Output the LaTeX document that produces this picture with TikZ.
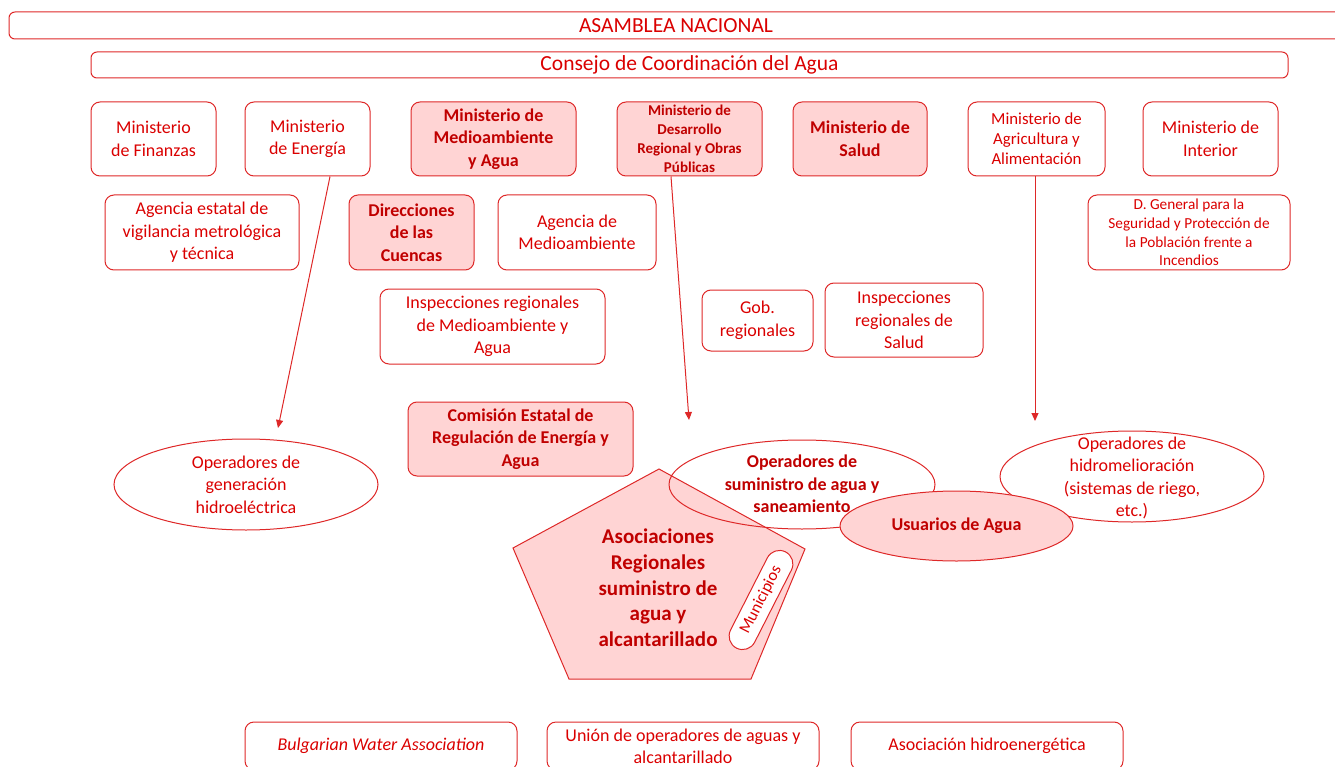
\documentclass[tikz,border=0pt]{standalone}
\usepackage{fontspec}
\setmainfont{Carlito}
\usetikzlibrary{shapes.geometric,arrows.meta}
\definecolor{bordred}{RGB}{222,40,40}
\definecolor{txtred}{RGB}{218,0,0}
\definecolor{boldred}{RGB}{192,0,0}
\definecolor{pinkfill}{RGB}{255,212,212}
\tikzset{
  box/.style={draw=bordred,line width=1pt,rounded corners=9pt,inner sep=0pt,align=center,text=txtred,
    font=\fontsize{18}{22.5}\selectfont},
  boldbox/.style={box,fill=pinkfill,text=boldred,font=\bfseries\fontsize{18}{22.5}\selectfont},
  ell/.style={draw=bordred,line width=1pt,ellipse,inner sep=0pt},
  etext/.style={align=center,text=txtred,inner sep=0pt,font=\fontsize{18}{22.5}\selectfont},
  arr/.style={draw=bordred,line width=1pt,-{Triangle[length=8pt,width=7pt]}}
}
\begin{document}
\begin{tikzpicture}[x=1pt,y=-1pt]
\useasboundingbox (0,0) rectangle (1335,767);
\clip (0,0) rectangle (1335,767);
% top bars
\node[box,minimum width=1334pt,minimum height=27pt,rounded corners=6pt,font=\fontsize{21.5}{25}\selectfont] (asam) at (676,25.5) {ASAMBLEA NACIONAL};
\node[box,minimum width=1197pt,minimum height=26pt,rounded corners=6pt,font=\fontsize{21.5}{25}\selectfont] (consejo) at (689.5,65) {Consejo de Coordinación del Agua};
% ministries
\node[box,minimum width=125pt,minimum height=74pt] (fin) at (153.5,139) {Ministerio\\de Finanzas};
\node[box,minimum width=125pt,minimum height=74pt] (ener) at (307.5,139) {Ministerio\\de Energía};
\node[boldbox,minimum width=165pt,minimum height=74pt] (medio) at (493.5,139) {Ministerio de\\Medioambiente\\y Agua};
\node[boldbox,minimum width=145pt,minimum height=74pt,font=\bfseries\fontsize{15}{19}\selectfont] (desa) at (689.5,139) {Ministerio de\\Desarrollo\\Regional y Obras\\Públicas};
\node[boldbox,minimum width=134pt,minimum height=74pt] (salud) at (860,139) {Ministerio de\\Salud};
\node[box,minimum width=137pt,minimum height=74pt,font=\fontsize{16.8}{20}\selectfont] (agri) at (1036.5,139) {Ministerio de\\Agricultura y\\Alimentación};
\node[box,minimum width=135pt,minimum height=74pt] (inter) at (1210.5,139) {Ministerio de\\Interior};
% second row
\node[box,minimum width=194pt,minimum height=75pt] (agencia) at (202,232.5) {Agencia estatal de\\vigilancia metrológica\\y técnica};
\node[boldbox,minimum width=125pt,minimum height=75pt] (dirc) at (411.5,232.5) {Direcciones\\de las\\Cuencas};
\node[box,minimum width=158pt,minimum height=75pt] (agmed) at (577,232.5) {Agencia de\\Medioambiente};
\node[box,minimum width=202pt,minimum height=75pt,font=\fontsize{15.3}{18.8}\selectfont] (dgen) at (1189,232.5) {D. General para la\\Seguridad y Protección de\\la Población frente a\\Incendios};
% third row
\node[box,minimum width=225pt,minimum height=75pt] (insp1) at (492.5,326.5) {Inspecciones regionales\\de Medioambiente y\\Agua};
\node[box,minimum width=111pt,minimum height=61pt] (gob) at (757.5,320.5) {Gob.\\regionales};
\node[box,minimum width=158pt,minimum height=74pt] (insp2) at (904,320) {Inspecciones\\regionales de\\Salud};
\node[boldbox,minimum width=225pt,minimum height=74pt] (comis) at (520.5,439) {Comisión Estatal de\\Regulación de Energía y\\Agua};
% ellipses and pentagon
\node[ell,minimum width=264pt,minimum height=91pt] (hidro) at (246,484.5) {};
\node[etext] (hidroT) at (hidro.center) {Operadores de\\generación\\hidroeléctrica};
\filldraw[draw=bordred,fill=pinkfill,line width=1pt] (659,469) coordinate (p1) -- (805,549) coordinate (p2) -- (751,679) coordinate (p3) -- (569,679) coordinate (p4) -- (513,548) coordinate (p5) -- cycle;
\node[align=center,text=boldred,inner sep=0pt,font=\bfseries\fontsize{21}{25.7}\selectfont] (penT) at (658,588) {Asociaciones\\Regionales\\suministro de\\agua y\\alcantarillado};
\node[draw=bordred,line width=1pt,fill=white,rounded corners=13.5pt,minimum width=108pt,minimum height=27pt,inner sep=0pt,rotate=63,text=txtred,font=\fontsize{16.5}{18}\selectfont] (muni) at (761,600) {Municipios};
\node[ell,minimum width=266pt,minimum height=89pt] (sumin) at (802,484.5) {};
\node[ell,minimum width=264pt,minimum height=91pt] (riego) at (1132,476.5) {};
\node[etext] (riegoT) at (1132,478) {Operadores de\\hidromelioración\\(sistemas de riego,\\etc.)};
\node[ell,fill=pinkfill,minimum width=233pt,minimum height=70pt] (usu) at (956.5,526) {};
\node[etext,text=boldred,font=\bfseries\fontsize{18}{22.5}\selectfont] (usuT) at (usu.center) {Usuarios de Agua};
\node[etext,text=boldred,font=\bfseries\fontsize{18}{22.5}\selectfont] (suminT) at (802,484) {Operadores de\\suministro de agua y\\saneamiento};
% arrows
\coordinate (t1) at (278,428);
\coordinate (t2) at (689,420);
\coordinate (t3) at (1035,421);
\draw[arr] ([xshift=22.5pt]ener.south) -- (t1);
\draw[arr] ([xshift=-18.5pt]desa.south) -- (t2);
\draw[arr] ([xshift=-1.5pt]agri.south) -- (t3);
% bottom associations
\node[box,minimum width=272pt,minimum height=48pt,font=\itshape\fontsize{18}{22}\selectfont] (bwa) at (381,746) {Bulgarian Water Association};
\node[box,minimum width=272pt,minimum height=48pt,font=\fontsize{18}{22}\selectfont] (union) at (683,746) {Unión de operadores de aguas y\\alcantarillado};
\node[box,minimum width=272pt,minimum height=48pt,font=\fontsize{18}{22}\selectfont] (asoc) at (987,746) {Asociación hidroenergética};
\end{tikzpicture}
\end{document}
